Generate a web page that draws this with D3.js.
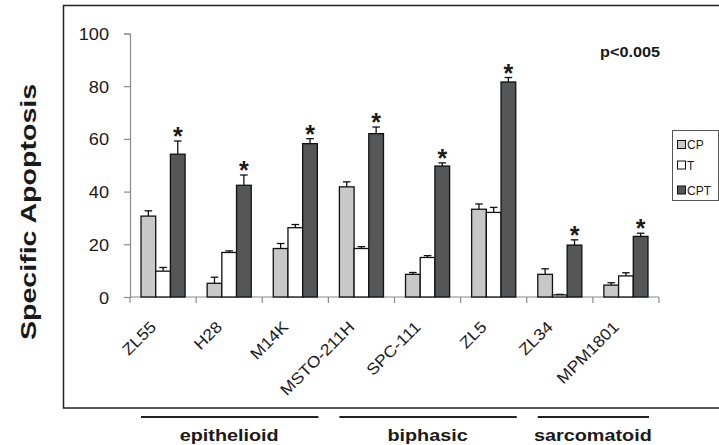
<!DOCTYPE html>
<html>
<head>
<meta charset="utf-8">
<script src="https://cdn.jsdelivr.net/npm/d3@7"></script>
<style>
  html, body { margin: 0; padding: 0; background: #fff; }
  svg { display: block; }
  text { font-family: "Liberation Sans", Arial, Helvetica, sans-serif; fill: #1a1a1a; }
</style>
</head>
<body>
<svg id="chart" width="719" height="445"></svg>
<script>
// Cell lines, treatment series and their mean specific apoptosis (%) with SEM
const cellLines = ["ZL55", "H28", "M14K", "MSTO-211H", "SPC-111", "ZL5", "ZL34", "MPM1801"];
const seriesNames = ["CP", "T", "CPT"];
const cpMean  = [30.7, 5.2, 18.4, 41.8, 8.6, 33.3, 8.6, 4.5];
const cpErr   = [2.0, 2.3, 1.9, 1.9, 0.7, 2.0, 2.1, 0.9];
const tMean   = [9.8, 16.9, 26.3, 18.4, 15.0, 32.1, 0.8, 8.0];
const tErr    = [1.4, 0.6, 1.2, 0.7, 0.7, 1.9, 0.2, 1.2];
const cptMean = [54.2, 42.4, 58.2, 62.0, 49.7, 81.6, 19.7, 23.0];
const cptErr  = [5.0, 3.9, 1.9, 2.5, 1.2, 1.7, 2.0, 1.2];
const cptSignificant = [true, true, true, true, true, true, true, true];
const yTicks = [0, 20, 40, 60, 80, 100];
const significanceNote = "p<0.005";
const yTitle = "Specific Apoptosis";

// Histological subtypes, each spanning a run of cell lines
const groupNames = ["epithelioid", "biphasic", "sarcomatoid"];
const groupFirst = ["ZL55", "MSTO-211H", "ZL34"];
const groupLast  = ["M14K", "ZL5", "MPM1801"];

const seriesFill = { CP: "#c8c8c8", T: "#ffffff", CPT: "#555658" };
const seriesMean = { CP: cpMean, T: tMean, CPT: cptMean };
const seriesErr  = { CP: cpErr, T: tErr, CPT: cptErr };

const svg = d3.select("#chart");
svg.append("rect").attr("width", 719).attr("height", 445).attr("fill", "#fff");

// outer frame (right edge runs past the canvas)
svg.append("rect")
  .attr("x", 63.5).attr("y", 5.5).attr("width", 700).attr("height", 402.5)
  .attr("fill", "none").attr("stroke", "#222").attr("stroke-width", 1.5);

const plot = { left: 130, right: 659, top: 33.5, bottom: 297 };

const x = d3.scaleBand().domain(cellLines).range([plot.left, plot.right]).paddingInner(0).paddingOuter(0);
const barW = x.bandwidth() / 4.5;
const xs = d3.scaleBand().domain(seriesNames)
  .range([(x.bandwidth() - 3 * barW) / 2, (x.bandwidth() + 3 * barW) / 2]);
const y = d3.scaleLinear().domain([0, 100]).range([plot.bottom, plot.top]);

// helper for horizontally widened text
function label(g, px, py, rot, sx, str) {
  return g.append("text")
    .attr("transform", `translate(${px},${py}) rotate(${rot}) scale(${sx},1)`)
    .text(str);
}

// y axis
const yAxis = svg.append("g")
  .attr("transform", `translate(${plot.left},0)`)
  .call(d3.axisLeft(y).tickValues(yTicks).tickSize(6).tickPadding(10).tickFormat(d3.format("d")));
yAxis.select(".domain").attr("stroke", "#8a8a8a").attr("stroke-width", 1.2);
yAxis.selectAll(".tick line").attr("stroke", "#8a8a8a").attr("stroke-width", 1.2);
yAxis.selectAll(".tick text").remove();
yAxis.selectAll(".tick").each(function (d) {
  label(d3.select(this), -21, 6, 0, 1.1, d)
    .attr("text-anchor", "end")
    .style("font-size", "16.5px");
});

// x axis with ticks on band boundaries
const xAxisG = svg.append("g").attr("transform", `translate(0,${plot.bottom})`);
xAxisG.append("line")
  .attr("x1", plot.left).attr("x2", plot.right)
  .attr("stroke", "#8a8a8a").attr("stroke-width", 1.2);
const boundaries = cellLines.map(c => x(c)).concat([x(cellLines[cellLines.length - 1]) + x.bandwidth()]);
xAxisG.selectAll("line.tk").data(boundaries).join("line")
  .attr("class", "tk")
  .attr("x1", d => d).attr("x2", d => d).attr("y1", 0).attr("y2", 6)
  .attr("stroke", "#8a8a8a").attr("stroke-width", 1.2);

// rotated category labels
cellLines.forEach(c => {
  label(svg, x(c) + x.bandwidth() / 2 - 6, 328, -45, 1.1, c)
    .attr("text-anchor", "end")
    .style("font-size", "16px");
});

// bars with upward error bars
const rows = [];
cellLines.forEach((c, i) => seriesNames.forEach(s => {
  rows.push({ cell: c, series: s, mean: seriesMean[s][i], err: seriesErr[s][i], i });
}));

const barG = svg.append("g");
const bar = barG.selectAll("g").data(rows).join("g")
  .attr("transform", d => `translate(${x(d.cell) + xs(d.series)},0)`);

bar.append("line")
  .attr("x1", barW / 2).attr("x2", barW / 2)
  .attr("y1", d => y(d.mean)).attr("y2", d => y(d.mean + d.err))
  .attr("stroke", "#111").attr("stroke-width", 1.3);
bar.append("line")
  .attr("x1", barW / 2 - 3.8).attr("x2", barW / 2 + 3.8)
  .attr("y1", d => y(d.mean + d.err)).attr("y2", d => y(d.mean + d.err))
  .attr("stroke", "#111").attr("stroke-width", 1.3);
bar.append("rect")
  .attr("x", 0).attr("width", barW)
  .attr("y", d => y(d.mean)).attr("height", d => y(0) - y(d.mean))
  .attr("fill", d => seriesFill[d.series])
  .attr("stroke", "#111").attr("stroke-width", 1.3);

// significance stars above the combined treatment
bar.filter(d => d.series === "CPT" && cptSignificant[d.i])
  .append("text")
  .attr("x", barW / 2)
  .attr("y", d => y(d.mean + d.err) + 4)
  .attr("text-anchor", "middle")
  .style("font-size", "25px").style("font-weight", "bold")
  .text("*");

// significance note
label(svg, 600, 57, 0, 1.12, significanceNote)
  .style("font-size", "14.5px").style("font-weight", "bold");

// legend
const legend = svg.append("g");
legend.append("rect")
  .attr("x", 672.5).attr("y", 130.5).attr("width", 46).attr("height", 70)
  .attr("fill", "#fff").attr("stroke", "#555").attr("stroke-width", 1);
const legendRowY = [144.5, 165, 190];
seriesNames.forEach((s, k) => {
  legend.append("rect")
    .attr("x", 677.5).attr("y", legendRowY[k] - 4).attr("width", 8).attr("height", 8)
    .attr("fill", seriesFill[s]).attr("stroke", "#111").attr("stroke-width", 1);
  legend.append("text")
    .attr("x", 687).attr("y", legendRowY[k] + 4.5)
    .style("font-size", "12px")
    .text(s);
});

// y title
label(svg, 35.5, 212, -90, 1.3, yTitle)
  .attr("text-anchor", "middle")
  .style("font-size", "22px").style("font-weight", "bold");

// subtype brackets beneath the frame
groupNames.forEach((g, k) => {
  const x0 = x(groupFirst[k]);
  const x1 = x(groupLast[k]) + x.bandwidth();
  svg.append("line")
    .attr("x1", x0 + 11).attr("x2", x1 - 10)
    .attr("y1", 417).attr("y2", 417)
    .attr("stroke", "#222").attr("stroke-width", 2);
  label(svg, (x0 + x1) / 2, 441, 0, 1.2, g)
    .attr("text-anchor", "middle")
    .style("font-size", "16.5px").style("font-weight", "bold");
});
</script>
</body>
</html>
